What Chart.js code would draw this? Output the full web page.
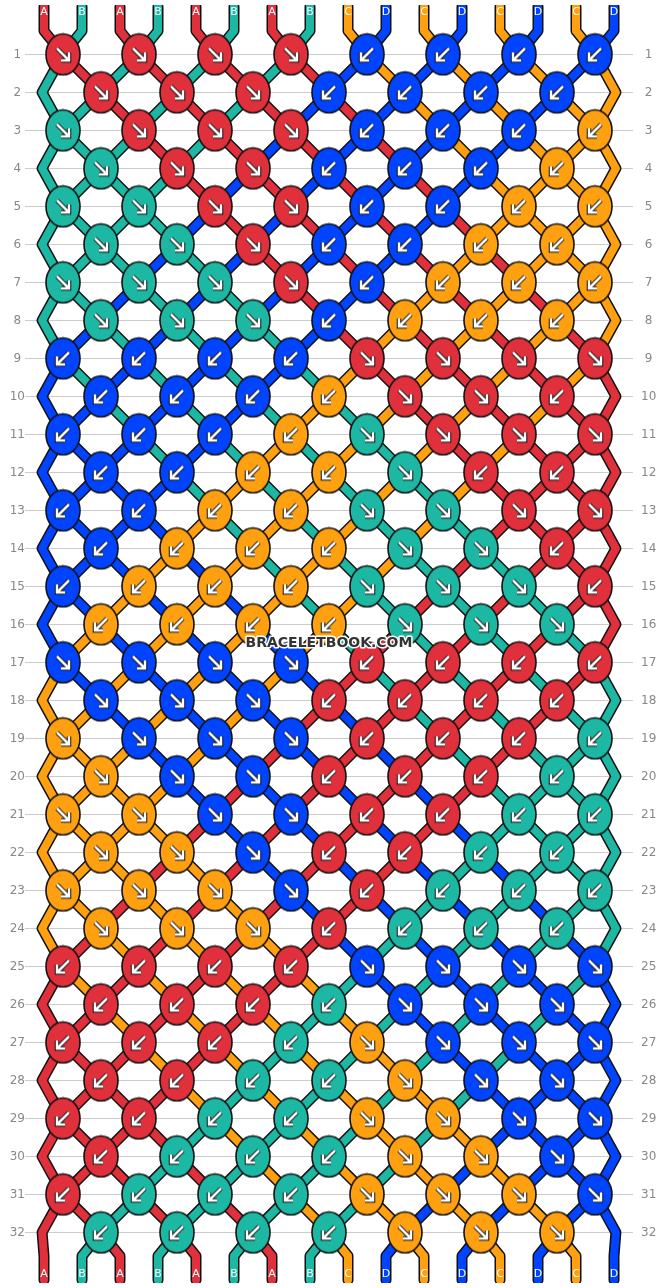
<!DOCTYPE html>
<html><head><meta charset="utf-8">
<script src="https://cdn.jsdelivr.net/npm/chart.js@4.4.0/dist/chart.umd.min.js"></script>
<style>html,body{margin:0;padding:0;background:#fff}#wrap{width:658px;height:1288px}</style>
</head><body><div id="wrap"><canvas id="c"></canvas></div>
<script>
const startStrings = "ABABABABCDCDCDCD";
const rowLabels = Array.from({length:32},(_,i)=>String(i+1));
// knot colours per row (R red, T teal, O orange, B blue)
const knotColors = [
"RRRRBBBB","RRRBBBB","TRRRBBBO","TRRBBBO","TTRRBBOO","TTRBBOO","TTTRBOOO","TTTBOOO",
"BBBBRRRR","BBBORRR","BBBOTRRR","BBOOTRR","BBOOTTRR","BOOOTTR","BOOOTTTR","OOOOTTT",
"BBBBRRRR","BBBRRRR","OBBBRRRT","OBBRRRT","OOBBRRTT","OOBRRTT","OOOBRTTT","OOORTTT",
"RRRRBBBB","RRRTBBB","RRRTOBBB","RRTTOBB","RRTTOOBB","RTTTOOB","RTTTOOOB","TTTTOOO"];
// knot directions: > forward (↘), < backward (↙)
const knotDirs = [
">>>><<<<",">>><<<<",">>>><<<<",">>><<<<",">>>><<<<",">>><<<<",">>>><<<<",">>><<<<",
"<<<<>>>>","<<<<>><","<<<<>>>>","<<<<><<","<<<<>>>>","<<<<>><","<<<<>>><","<<<<>>>",
">>>><<<<",">>><<<<",">>>><<<<",">>><<<<",">>>><<<<",">>><<<<",">>>><<<<",">>><<<<",
"<<<<>>>>","<<<<>>>","<<<<>>>>","<<<<>>>","<<<<>>>>","<<<<>>>","<<<<>>>>","<<<<>>>"];
const stringLetterColors = {A:'#e0303c',B:'#1cb8a4',C:'#ffa010',D:'#0044ff'};
const knotPalette = {R:'#e0303c',T:'#1cb8a4',O:'#ffa010',B:'#0044ff'};

let order = startStrings.split('').map((c,i)=>({id:i,c}));
const paths = order.map(s=>[{x:s.id+0.5,y:-0.25},{x:s.id+0.5,y:0.38}]);
const knots=[];
for(let r=1;r<=32;r++){
  const st = r%2===1?0:1, n = r%2===1?8:7;
  const used = new Array(16).fill(false);
  for(let k=0;k<n;k++){
    const p=st+2*k, cx=p+1;
    paths[order[p].id].push({x:cx,y:r}); paths[order[p+1].id].push({x:cx,y:r});
    used[p]=used[p+1]=true;
    knots.push({x:cx,y:r,col:knotColors[r-1][k],dir:knotDirs[r-1][k]});
    const t=order[p]; order[p]=order[p+1]; order[p+1]=t;
  }
  if(!used[0]) paths[order[0].id].push({x:0.45,y:r});
  if(!used[15]) paths[order[15].id].push({x:15.55,y:r});
}
const endOrder = order.slice();
order.forEach((s,p)=>{paths[s.id].push({x:p+0.5,y:32.62},{x:p+0.5,y:33.25});});

function knotImg(col,dir){
  const c=document.createElement('canvas');c.width=38;c.height=44;
  const g=c.getContext('2d');
  g.beginPath();g.ellipse(19,22,17,20.5,0,0,Math.PI*2);
  g.fillStyle=knotPalette[col];g.fill();g.lineWidth=1.6;g.strokeStyle='#111';g.stroke();
  g.save();g.translate(19,22);if(dir==='<')g.scale(-1,1);
  const draw=(w,s)=>{g.lineWidth=w;g.strokeStyle=s;g.lineCap='butt';g.lineJoin='miter';
    g.beginPath();g.moveTo(-6,-6);g.lineTo(5,5);g.stroke();
    g.beginPath();g.moveTo(6,-2);g.lineTo(6,6);g.lineTo(-2,6);g.stroke();};
  draw(4.5,'#111');draw(2.5,'#fff');
  g.restore();return c;
}
const imgs=knots.map(k=>knotImg(k.col,k.dir));

const datasets=[];
paths.forEach((pts,i)=>{
  datasets.push({type:'line',data:pts,borderColor:'#111',borderWidth:11,pointRadius:0,order:3,borderCapStyle:'round',borderJoinStyle:'round'});
  datasets.push({type:'line',data:pts,borderColor:stringLetterColors[startStrings[i]],borderWidth:8,pointRadius:0,order:2,borderCapStyle:'round',borderJoinStyle:'round'});
});
datasets.push({type:'scatter',data:knots.map(k=>({x:k.x,y:k.y})),pointStyle:imgs,order:0});

const labelsPlugin={id:'lbl',afterDatasetsDraw(ch){
  const g=ch.ctx,xs=ch.scales.x,ys=ch.scales.y;
  g.save();g.font='11px "DejaVu Sans"';g.textAlign='center';g.textBaseline='middle';g.fillStyle='#fff';
  for(let p=0;p<16;p++){
    g.fillText(startStrings[p],xs.getPixelForValue(p+0.5),ys.getPixelForValue(-0.1));
    g.fillText(endOrder[p].c,xs.getPixelForValue(p+0.5),ys.getPixelForValue(33.1));
  }
  g.font='bold 14px "DejaVu Sans"';g.lineWidth=3;g.strokeStyle='#fff';g.lineJoin='round';
  const X=xs.getPixelForValue(8),Y=ys.getPixelForValue(16.5);
  g.strokeText('BRACELETBOOK.COM',X,Y);g.fillStyle='#333';g.fillText('BRACELETBOOK.COM',X,Y);
  g.restore();
}};

const tickOpts={color:'#888',font:{size:12,family:'DejaVu Sans'},padding:0,autoSkip:false,crossAlign:'center',
  callback:v=>(v>=1&&v<=32&&Number.isInteger(v))?String(v):''};
const YMIN=-0.30, YMAX=33.33;
const fit=s=>{s.width=25;s.paddingTop=0;s.paddingBottom=0;};
new Chart(document.getElementById('c'),{
  data:{datasets},
  options:{responsive:true,maintainAspectRatio:false,animation:false,
    layout:{padding:0},
    plugins:{legend:{display:false},tooltip:{enabled:false}},
    scales:{
      x:{type:'linear',min:0,max:16,display:false},
      y:{type:'linear',reverse:true,min:YMIN,max:YMAX,position:'left',
        afterFit:fit,afterBuildTicks:s=>{s.ticks=rowLabels.map(Number).map(v=>({value:v}));},
        grid:{color:'#cccccc',drawTicks:false},border:{display:false},ticks:tickOpts},
      y2:{type:'linear',reverse:true,min:YMIN,max:YMAX,position:'right',
        afterFit:fit,afterBuildTicks:s=>{s.ticks=rowLabels.map(Number).map(v=>({value:v}));},
        grid:{display:false},border:{display:false},ticks:tickOpts}
    }},
  plugins:[labelsPlugin]
});
</script></body></html>
